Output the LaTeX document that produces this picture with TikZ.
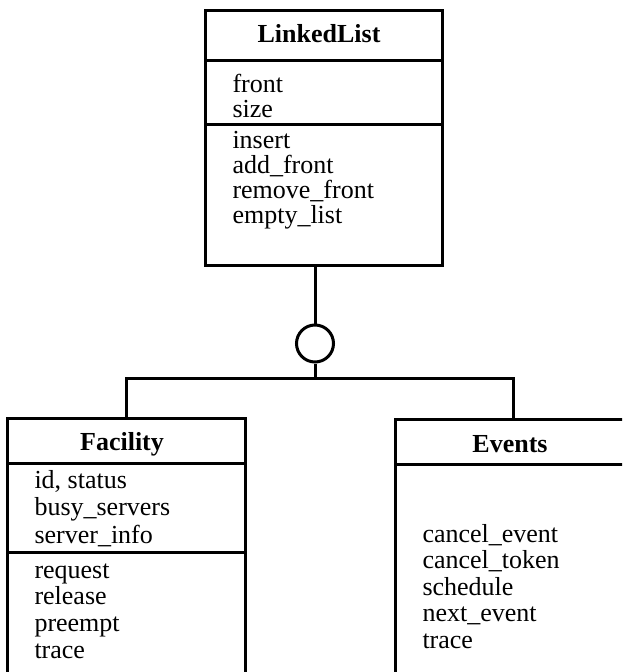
\documentclass[tikz,border=0pt]{standalone}
\usepackage{fontspec}
\setmainfont{Liberation Serif}
\begin{document}
\begin{tikzpicture}[x=1pt,y=-1pt, line width=3pt,
  box/.style={draw, inner sep=0pt, outer sep=0pt, anchor=north west},
  txt/.style={anchor=base west, inner sep=0pt, font=\fontsize{26}{27}\selectfont},
  ttl/.style={anchor=base, inner sep=0pt, font=\bfseries\fontsize{26}{27}\selectfont}]
\useasboundingbox (0,0) rectangle (622,672);
\clip (0,0) rectangle (622,672);

% LinkedList
\node[box, minimum width=237pt, minimum height=255pt] (ll) at (205,10) {};
\draw (ll.west |- 0,60) -- (ll.east |- 0,60);
\draw (ll.west |- 0,124) -- (ll.east |- 0,124);
\node[ttl] (llt) at (319,42) {LinkedList};
\foreach \t [count=\i] in {front,size}
  \node[txt] (lla\i) at (231,{92+25*(\i-1)}) {\t};
\foreach \t [count=\i] in {insert,add\_front,remove\_front,empty\_list}
  \node[txt] (llm\i) at (231,{148+25*(\i-1)}) {\t};

% Facility
\node[box, minimum width=238pt, minimum height=300pt] (fac) at (7,418) {};
\draw (fac.west |- 0,463) -- (fac.east |- 0,463);
\draw (fac.west |- 0,552) -- (fac.east |- 0,552);
\node[ttl] (fact) at (122,450) {Facility};
\foreach \t [count=\i] in {{id, status},busy\_servers,server\_info}
  \node[txt] (faca\i) at (33,{488+27.5*(\i-1)}) {\t};
\foreach \t [count=\i] in {request,release,preempt,trace}
  \node[txt] (facm\i) at (33,{578+26.7*(\i-1)}) {\t};

% Events
\node[box, minimum width=236pt, minimum height=300pt] (ev) at (395,419) {};
\draw (ev.west |- 0,464) -- (ev.east |- 0,464);
\node[ttl] (evt) at (510,452) {Events};
\foreach \t [count=\i] in {cancel\_event,cancel\_token,schedule,next\_event,trace}
  \node[txt] (evm\i) at (421,{542+26.5*(\i-1)}) {\t};

% connectors
\node[draw, circle, inner sep=0pt, minimum size=37pt] (circ) at (315,343.5) {};
\coordinate (bar) at (315,378);
\draw (circ.north) -- (circ.north |- ll.south);
\draw (circ.south) -- (bar);
\draw (fac.north) |- (bar) -| (ev.north);
\end{tikzpicture}
\end{document}
